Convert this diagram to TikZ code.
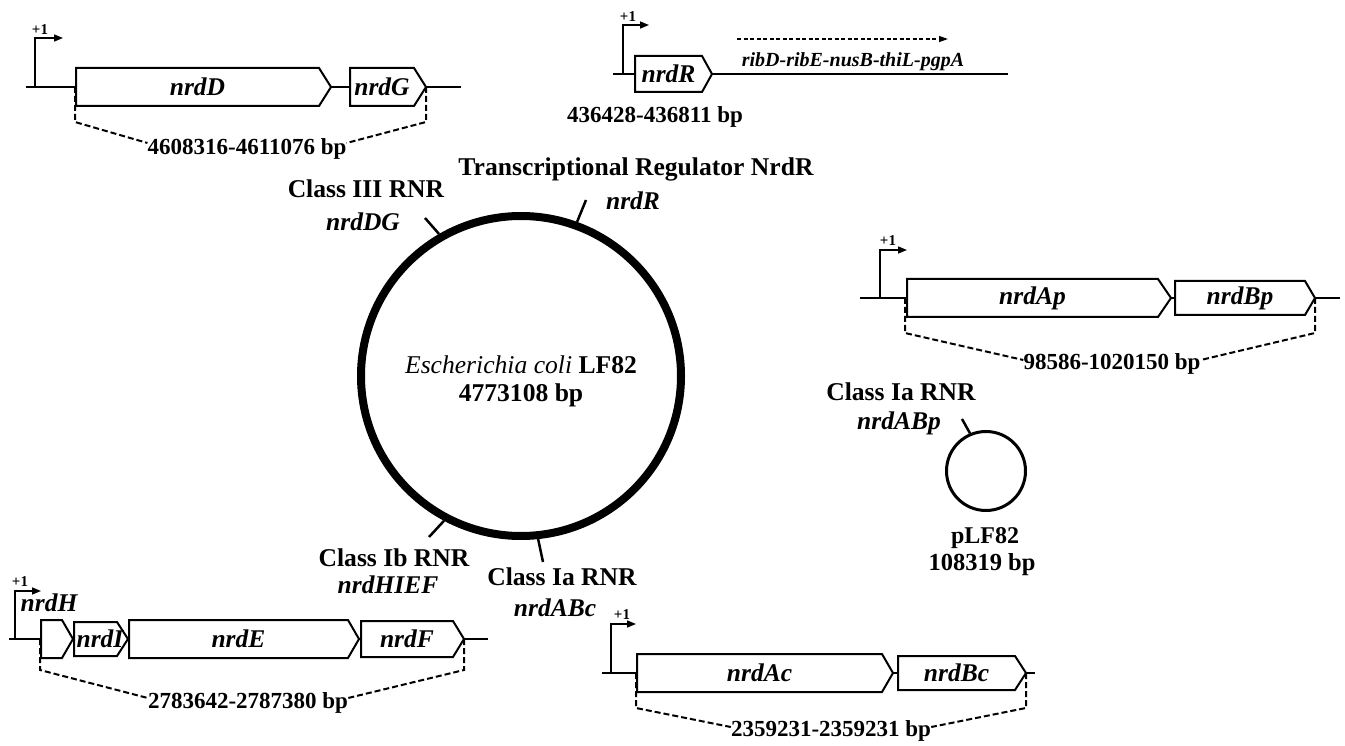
\documentclass[tikz,border=0pt]{standalone}
\usepackage{fontspec}
\setmainfont{Liberation Serif}
\usetikzlibrary{arrows.meta}
\newcommand{\drawgene}[7]{%
  \draw[genebox] (#2,#5) -- (#3,#5) -- (#4,{(#5+#6)/2}) -- (#3,#6) -- (#2,#6) -- cycle;
  \coordinate (#1-l) at (#2,{(#5+#6)/2});
  \coordinate (#1-r) at (#4,{(#5+#6)/2});
  \node[gname] (#1) at ({(#2+#3)/2},{(#5+#6)/2}) {#7};
}
\tikzset{
  lbl/.style={font=\fontsize{23}{27}\selectfont\bfseries, inner sep=0pt, align=center},
  biglbl/.style={font=\fontsize{25.6}{30}\selectfont\bfseries, inner sep=0pt, align=center},
  gname/.style={font=\fontsize{25.5}{30}\selectfont\bfseries\itshape, inner sep=0pt},
  plusone/.style={font=\fontsize{15}{17}\selectfont\bfseries, inner sep=0pt},
  genebox/.style={draw, fill=white, line width=2pt, line join=miter},
  dna/.style={line width=1.5pt},
  prom/.style={line width=1.5pt, -{Triangle[length=9pt,width=7pt]}},
  brk/.style={line width=2pt, dash pattern=on 6pt off 3pt},
  tick/.style={line width=2.5pt},
}
\begin{document}
\begin{tikzpicture}[x=1pt,y=-1pt]
\useasboundingbox (0,0) rectangle (1345,746);

% ---------- top-left cluster: nrdDG ----------
\coordinate (tlA) at (26,87); \coordinate (tlB) at (461,87);
\draw[dna] (tlA) -- (tlB);
\coordinate (tlP) at (35,87);
\draw[prom] (tlP) -- (35,38) -- (63,38);
\node[plusone] (tlplus) at (40,30) {+1};
\drawgene{nrdD}{76}{319}{331}{68}{106}{nrdD}
\drawgene{nrdG}{350}{414}{426}{68}{106}{nrdG}
\node[lbl] (tlbp) at (247,149) {4608316-4611076 bp};
\draw[brk] (nrdD-l -| 75,0) -- ++(0,35) -- ([yshift=6pt]tlbp.west);
\draw[brk] (nrdG-r) -- ++(0,35) -- ([yshift=6pt]tlbp.east);

% ---------- top-middle cluster: nrdR ----------
\coordinate (tmA) at (613,74); \coordinate (tmB) at (1008,74);
\draw[dna] (tmA) -- (tmB);
\coordinate (tmP) at (623,74);
\draw[prom] (tmP) -- (623,25) -- (649,25);
\node[plusone] (tmplus) at (628,17) {+1};
\drawgene{nrdR}{635}{702}{712}{56}{92}{nrdR}
\coordinate (ribA) at (737,39); \coordinate (ribB) at (948,39);
\draw[line width=1.3pt, dash pattern=on 4pt off 2.5pt, -{Triangle[length=9pt,width=6pt]}] (ribA) -- (ribB);
\node[font=\fontsize{20}{24}\selectfont\bfseries\itshape, inner sep=0pt] (rib) at (853,62) {ribD-ribE-nusB-thiL-pgpA};
\node[lbl] (tmbp) at (655,117) {436428-436811 bp};

% ---------- right cluster: nrdABp ----------
\coordinate (rtA) at (860,298); \coordinate (rtB) at (1340,298);
\draw[dna] (rtA) -- (rtB);
\coordinate (rtP) at (880,298);
\draw[prom] (rtP) -- (880,250) -- (907,250);
\node[plusone] (rtplus) at (888,241) {+1};
\drawgene{nrdAp}{907}{1158}{1171}{279}{317}{nrdAp}
\drawgene{nrdBp}{1175}{1305}{1315}{281}{315}{nrdBp}
\node[lbl] (rtbp) at (1112,364) {98586-1020150 bp};
\draw[brk] (nrdAp-l -| 905,0) -- ++(0,35) -- ([yshift=4pt]rtbp.west);
\draw[brk] (nrdBp-r) -- ++(0,35) -- ([yshift=4pt]rtbp.east);

% ---------- bottom-left cluster: nrdHIEF ----------
\coordinate (blA) at (9,639); \coordinate (blB) at (488,639);
\draw[dna] (blA) -- (blB);
\coordinate (blP) at (15,639);
\draw[prom] (blP) -- (15,591) -- (41,591);
\node[plusone] (blplus) at (20,582) {+1};
\drawgene{nrdH}{41}{62}{73}{620}{658}{}
\node[gname] (nrdHlbl) at (49,603) {nrdH};
\drawgene{nrdI}{74}{117}{128}{622}{656}{}
\node[gname] (nrdIlbl) at (100,639) {nrdI};
\drawgene{nrdE}{129}{348}{359}{620}{658}{nrdE}
\drawgene{nrdF}{361}{453}{464}{621}{657}{nrdF}
\node[lbl] (blbp) at (248,703) {2783642-2787380 bp};
\draw[brk] (nrdH-l -| 40,0) -- ++(0,31) -- ([yshift=5pt]blbp.west);
\draw[brk] (nrdF-r) -- ++(0,31) -- ([yshift=5pt]blbp.east);

% ---------- bottom-right cluster: nrdABc ----------
\coordinate (brA) at (602,673); \coordinate (brB) at (1035,673);
\draw[dna] (brA) -- (brB);
\coordinate (brP) at (611,673);
\draw[prom] (brP) -- (611,624) -- (636,624);
\node[plusone] (brplus) at (622,615) {+1};
\drawgene{nrdAc}{637}{882}{893}{654}{692}{nrdAc}
\drawgene{nrdBc}{898}{1015}{1026}{656}{690}{nrdBc}
\node[lbl] (brbp) at (831,731) {2359231-2359231 bp};
\draw[brk] (nrdAc-l -| 636,0) -- ++(0,35) -- ([yshift=4pt]brbp.west);
\draw[brk] (nrdBc-r) -- ++(0,35) -- ([yshift=4pt]brbp.east);

% ---------- chromosome ----------
\node[circle, draw, line width=8pt, minimum size=320pt, inner sep=0pt] (chrom) at (521,376) {};
\node[biglbl] (ecoli) at (521,365) {\mdseries\itshape Escherichia coli\/ \bfseries\upshape LF82};
\node[biglbl] (ecolibp) at (521,395) {4773108 bp};

\coordinate (tDG) at (425,218);
\coordinate (tR) at (586,200);
\coordinate (tHIEF) at (429,537);
\coordinate (tABc) at (543,562);
\draw[tick] (chrom.120) -- (tDG);
\draw[tick] (chrom.70) -- (tR);
\draw[tick] (chrom.242) -- (tHIEF);
\draw[tick] (chrom.276) -- (tABc);

\node[biglbl] (trans) at (636,169) {Transcriptional Regulator NrdR};
\node[gname] (nrdRlbl) at (633,201) {nrdR};
\node[biglbl] (c3) at (366,189) {Class III RNR};
\node[gname] (nrdDGlbl) at (363,222) {nrdDG};
\node[biglbl] (c1b) at (394,558) {Class Ib RNR};
\node[gname] (nrdHIEFlbl) at (388,585) {nrdHIEF};
\node[biglbl] (c1a) at (562,577) {Class Ia RNR};
\node[gname] (nrdABclbl) at (555,608) {nrdABc};

% ---------- plasmid ----------
\node[circle, draw, line width=3pt, minimum size=79pt, inner sep=0pt] (plas) at (986,471) {};
\coordinate (tABp) at (962,419);
\draw[tick] (plas.113) -- (tABp);
\node[biglbl] (c1ap) at (901,392) {Class Ia RNR};
\node[gname] (nrdABplbl) at (899,423) {nrdABp};
\node[lbl, font=\fontsize{24}{28}\selectfont\bfseries] (plf) at (985,538) {pLF82};
\node[lbl, font=\fontsize{24.5}{28}\selectfont\bfseries] (plfbp) at (982,565) {108319 bp};
\end{tikzpicture}
\end{document}
